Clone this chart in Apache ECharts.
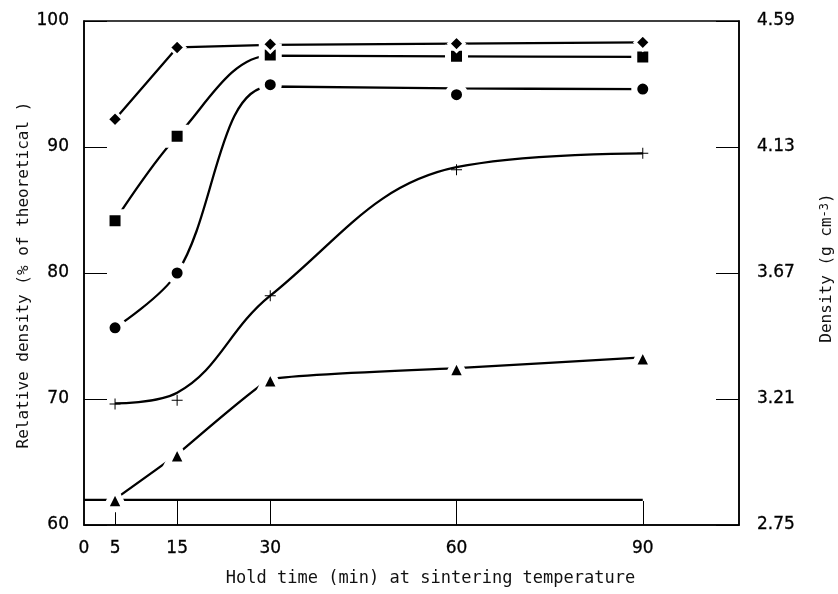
<!DOCTYPE html>
<html>
<head>
<meta charset="utf-8">
<script src="https://cdn.jsdelivr.net/npm/echarts@6/dist/echarts.min.js"></script>
<style>html,body{margin:0;padding:0;background:#fff}#c{width:838px;height:594px}</style>
</head>
<body>
<div id="c"></div>
<script>
// Hold time (min)
const holdTimes = [5, 15, 30, 60, 90];
const diamondPoints = [92.2, 97.9, 98.15, 98.2, 98.3];
const squarePoints = [84.15, 90.85, 97.3, 97.2, 97.15];
const circlePoints = [75.65, 80.0, 94.95, 94.15, 94.6];
const plusPoints = [69.6, 69.9, 78.2, 88.2, 89.5];
const trianglePoints = [62.05, 65.6, 71.55, 72.45, 73.3];
// Drawn curves, read where each curve crosses the same hold times
const diamondCurve = [92.2, 97.9, 98.1, 98.2, 98.3];
const squareCurve = [84.15, 90.85, 97.25, 97.2, 97.15];
const circleCurve = [75.65, 80.0, 94.8, 94.65, 94.6];
const plusCurve = [69.65, 70.5, 78.2, 88.4, 89.5];
const triangleCurve = [62.05, 65.6, 71.55, 72.45, 73.3];
// Baseline bar at the bottom of the plot
const baselineX = [0, 90];
const baselineY = [62, 62];
// Tick labels
const xLabelValues = [0, 5, 15, 30, 60, 90];
const xTickValues = [5, 15, 30, 60, 90];
const rightTicks = [2.75, 3.21, 3.67, 4.13, 4.59];

const pairs = (ys) => holdTimes.map((x, i) => [x, ys[i]]);
const plusPath = 'path://M5,0h1v5h5v1h-5v5h-1v-5h-5v-1h5z';
const lab = { fontFamily: 'DejaVu Sans', fontSize: 17, color: '#000', textBorderColor: '#000', textBorderWidth: 0.3 };
const ttlX = { fontFamily: 'DejaVu Sans Mono', fontSize: 17, color: '#111' };
const ttlY = { fontFamily: 'DejaVu Sans Mono', fontSize: 16, color: '#111' };

function curve(name, ys, smooth) {
  return {
    name: name + ' curve', type: 'line', data: pairs(ys), smooth,
    symbol: 'none', lineStyle: { color: '#000', width: 2.3 }, z: 3, silent: true
  };
}
function marks(name, ys, symbol, size, border) {
  return {
    name, type: 'scatter', data: pairs(ys), symbol, symbolSize: size,
    itemStyle: { color: '#000', borderColor: '#fff', borderWidth: border, opacity: 1 },
    z: 4
  };
}

const chart = echarts.init(document.getElementById('c'));
chart.setOption({
  animation: false,
  backgroundColor: '#fff',
  grid: { left: 84, right: 99, top: 21, bottom: 69, show: true, borderColor: '#000', borderWidth: 1.5,
          containLabel: false, outerBoundsMode: 'none' },
  xAxis: {
    type: 'value', min: 0, max: 105.5,
    name: 'Hold time (min) at sintering temperature',
    nameLocation: 'middle', nameGap: 45,
    nameTextStyle: Object.assign({ padding: [0, 0, 0, 38] }, ttlX),
    axisLine: { lineStyle: { color: '#000', width: 1.5 } },
    axisTick: { inside: true, length: 24, customValues: xTickValues, lineStyle: { color: '#000', width: 1 } },
    axisLabel: Object.assign({ customValues: xLabelValues, margin: 15 }, lab),
    splitLine: { show: false }
  },
  yAxis: [{
    type: 'value', min: 60, max: 100, interval: 10,
    name: 'Relative density (% of theoretical )',
    nameLocation: 'middle', nameGap: 52, nameRotate: 90, nameMoveOverlap: false,
    nameTextStyle: Object.assign({ padding: [0, 4, 0, 0] }, ttlY),
    axisLine: { show: true, lineStyle: { color: '#000', width: 1.5 } },
    axisTick: { show: true, inside: true, length: 23, lineStyle: { color: '#000', width: 1 } },
    axisLabel: Object.assign({ margin: 15 }, lab),
    splitLine: { show: false }
  }, {
    type: 'value', position: 'right', min: 2.75, max: 4.59, interval: 0.46,
    name: '{a|Density (g cm}{s|-3}{a|)}',
    nameLocation: 'middle', nameGap: 80, nameRotate: 90,
    nameTextStyle: {
      padding: [0, 0, 0, 10],
      rich: {
        a: ttlY,
        s: { fontFamily: 'DejaVu Sans Mono', fontSize: 12, color: '#111', verticalAlign: 'top', lineHeight: 12, padding: [0, 0, 8, 0] }
      }
    },
    axisLine: { show: true, lineStyle: { color: '#000', width: 1.5 } },
    axisTick: { show: true, inside: true, length: 23, lineStyle: { color: '#000', width: 1 } },
    axisLabel: Object.assign({ margin: 18, formatter: (v) => v.toFixed(2), customValues: rightTicks }, lab),
    splitLine: { show: false }
  }],
  series: [
    {
      name: 'baseline', type: 'line', data: baselineX.map((x, i) => [x, baselineY[i]]),
      symbol: 'none', lineStyle: { color: '#000', width: 2.2 }, z: 2, silent: true
    },
    curve('diamond', diamondCurve, false),
    curve('square', squareCurve, 0.35),
    curve('circle', circleCurve, 0.35),
    curve('plus', plusCurve, 0.4),
    curve('triangle', triangleCurve, 0.1),
    marks('square', squarePoints, 'rect', 17, 6),
    marks('diamond', diamondPoints, 'diamond', 15.5, 3),
    marks('circle', circlePoints, 'circle', 17, 6),
    marks('plus', plusPoints, plusPath, 11, 0),
    marks('triangle', trianglePoints, 'triangle', 20, 6)
  ]
});
</script>
</body>
</html>
